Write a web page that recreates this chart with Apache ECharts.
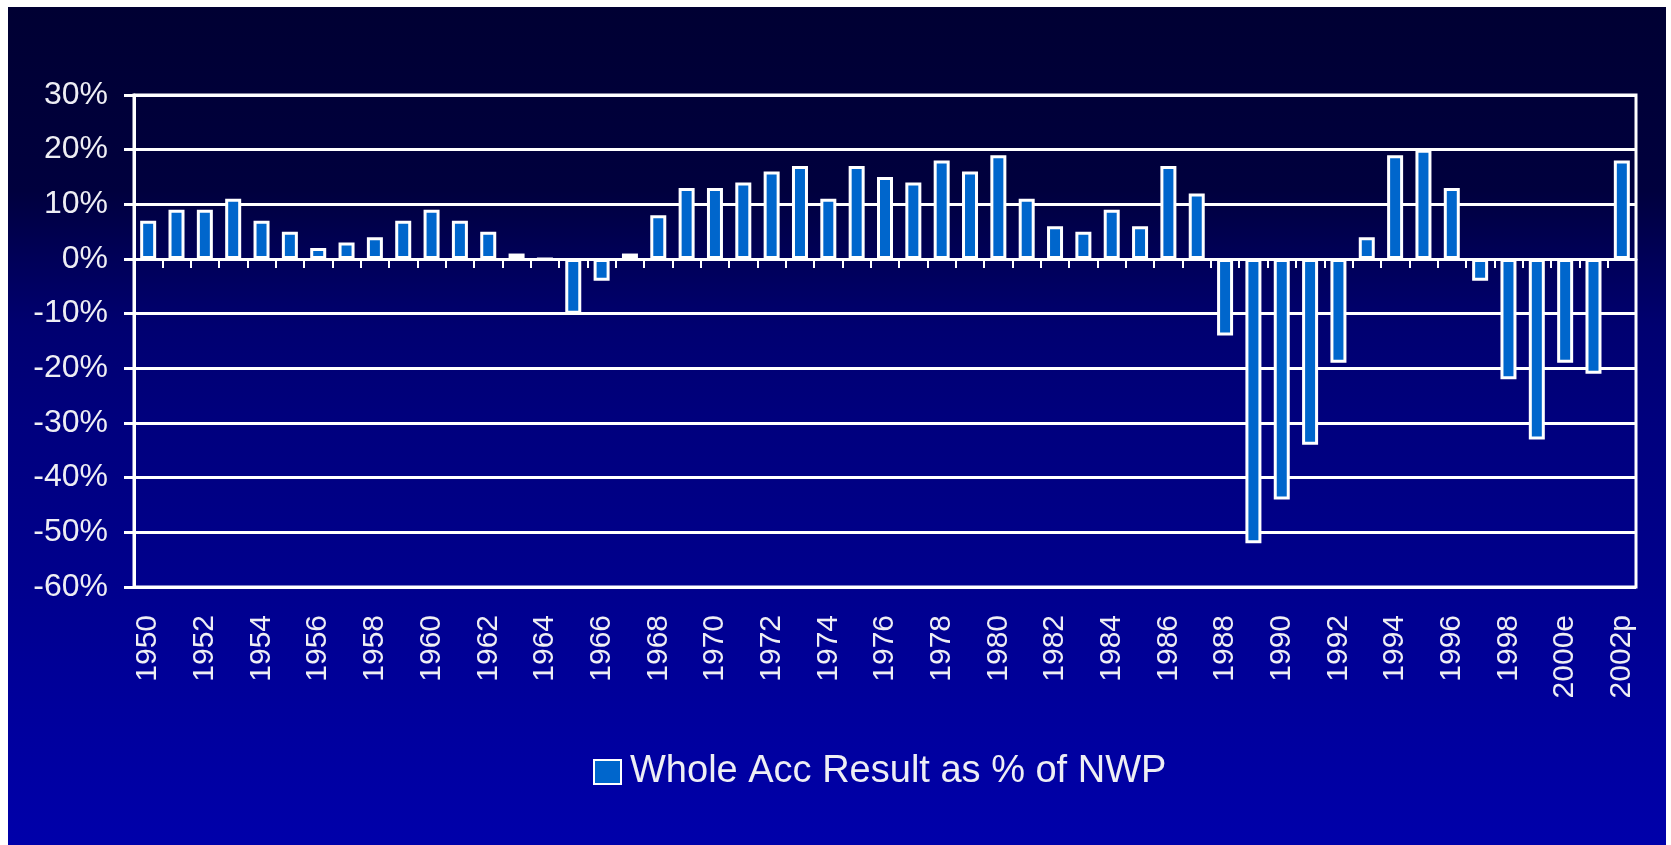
<!DOCTYPE html>
<html lang="en">
<head>
    <meta charset="UTF-8">
    <title>Whole Acc Result as % of NWP</title>
    <style type="text/css">
        *{
            margin: 0;
            padding: 0;
        }
        body{
            background: #ffffff;
        }
        #bg{
            position: absolute;
            left: 8px;
            top: 7px;
            width: 1658px;
            height: 838px;
            background: linear-gradient(to bottom, #000033 0%, #00003e 22%, #000058 30%, #000070 38%, #00007e 50%, #00008c 68%, #00009c 84%, #0000aa 100%);
        }
        #main{
            position: absolute;
            left: 0;
            top: 0;
            width: 1671px;
            height: 845px;
        }
    </style>
</head>
<body>
    <div id="bg"></div>
    <div id="main"></div>
    <script src="https://cdn.jsdelivr.net/npm/echarts@6/dist/echarts.min.js"></script>
    <script type="text/javascript">
        var myChart = echarts.init(document.getElementById('main'));

        // years on the category axis (every second one is labelled)
        var years = ['1950', '1951', '1952', '1953', '1954', '1955', '1956', '1957', '1958', '1959',
            '1960', '1961', '1962', '1963', '1964', '1965', '1966', '1967', '1968', '1969',
            '1970', '1971', '1972', '1973', '1974', '1975', '1976', '1977', '1978', '1979',
            '1980', '1981', '1982', '1983', '1984', '1985', '1986', '1987', '1988', '1989',
            '1990', '1991', '1992', '1993', '1994', '1995', '1996', '1997', '1998', '1999',
            '2000e', '2001e', '2002p'];

        // Whole Acc Result as % of NWP
        var result = [7, 9, 9, 11, 7, 5, 2, 3, 4, 7,
            9, 7, 5, 1, 0, -10, -4, 1, 8, 13,
            13, 14, 16, 17, 11, 17, 15, 14, 18, 16,
            19, 11, 6, 5, 9, 6, 17, 12, -14, -52,
            -44, -34, -19, 4, 19, 20, 13, -4, -22, -33,
            -19, -21, 18];

        var seriesName = 'Whole Acc Result as % of NWP';
        var font = "'Liberation Sans', Arial, sans-serif";
        var textColor = '#eeeef4';

        var option = {
            animation: false,
            backgroundColor: 'transparent',
            grid: {
                left: 134,
                right: 35,
                top: 95,
                bottom: 258,
                show: true,
                borderColor: '#ffffff',
                borderWidth: 3
            },
            legend: {
                left: 588,
                top: 748,
                itemWidth: 27,
                itemHeight: 24,
                icon: 'rect',
                textStyle: {
                    color: textColor,
                    fontSize: 38,
                    fontFamily: font,
                    padding: [0, 0, 0, 4]
                },
                data: [seriesName]
            },
            xAxis: [
                {
                    // labels along the bottom
                    type: 'category',
                    data: years,
                    position: 'bottom',
                    axisLine: { show: false, onZero: false },
                    axisTick: { show: false },
                    splitLine: { show: false },
                    axisLabel: {
                        rotate: 90,
                        interval: 1,
                        margin: 28,
                        color: textColor,
                        fontSize: 30,
                        fontFamily: font
                    }
                },
                {
                    // the zero line with its ticks
                    type: 'category',
                    data: years,
                    position: 'bottom',
                    axisLine: {
                        show: true,
                        onZero: true,
                        lineStyle: { color: '#ffffff', width: 3 }
                    },
                    axisTick: {
                        show: true,
                        interval: 0,
                        length: 9,
                        lineStyle: { color: '#ffffff', width: 2 }
                    },
                    axisLabel: { show: false },
                    splitLine: { show: false }
                }
            ],
            yAxis: {
                type: 'value',
                min: -60,
                max: 30,
                interval: 10,
                axisLine: {
                    show: true,
                    lineStyle: { color: '#ffffff', width: 3 }
                },
                axisTick: {
                    show: true,
                    length: 10,
                    lineStyle: { color: '#ffffff', width: 3 }
                },
                splitLine: {
                    lineStyle: { color: '#ffffff', width: 3 }
                },
                axisLabel: {
                    formatter: '{value}%',
                    margin: 26,
                    color: textColor,
                    fontSize: 32,
                    fontFamily: font
                }
            },
            series: [{
                name: seriesName,
                type: 'bar',
                xAxisIndex: 0,
                data: result,
                barWidth: 16,
                itemStyle: {
                    color: '#0066cc',
                    borderColor: '#ffffff',
                    borderWidth: 3
                }
            }]
        };

        myChart.setOption(option);
    </script>
</body>
</html>
